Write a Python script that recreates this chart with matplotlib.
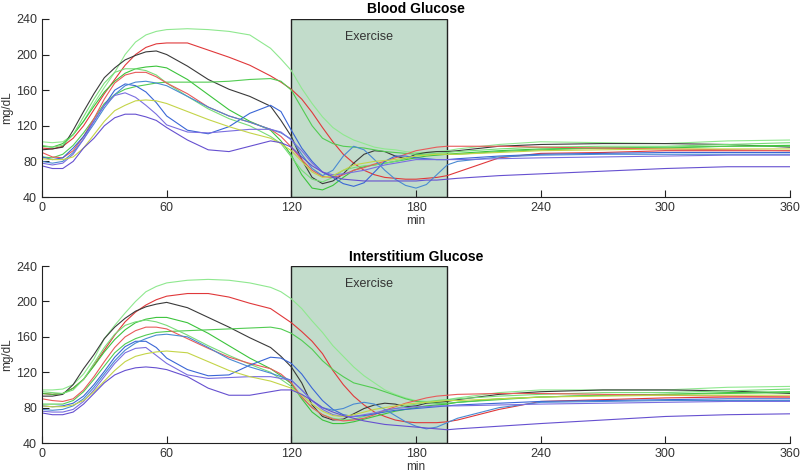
import matplotlib
matplotlib.use("Agg")
import matplotlib.pyplot as plt

plt.rcParams['font.family'] = ['Liberation Sans', 'DejaVu Sans']

# time points (min)
t = [0, 5, 10, 15, 20, 25, 30, 35, 40, 45, 50, 55, 60, 70, 80, 90, 100, 110, 115, 120,
     125, 130, 135, 140, 145, 150, 155, 160, 165, 170, 175, 180, 185, 190, 195,
     200, 220, 240, 270, 300, 330, 360]

exercise_start = 120
exercise_end = 195

# blood glucose (mg/dL), one list per subject
bg_palegreen = [102, 101, 102, 110, 125, 145, 163, 180, 200, 214, 222, 226, 228, 229, 228, 226, 222, 207, 195, 182,
                162, 145, 130, 118, 110, 104, 100, 96, 94, 93, 91, 90, 90, 91, 92,
                94, 99, 102, 101, 100, 103, 104]
bg_red = [95, 94, 97, 106, 120, 138, 156, 172, 188, 200, 208, 212, 213, 213, 205, 197, 188, 176, 169, 161,
          150, 135, 118, 102, 88, 78, 70, 65, 62, 61, 60, 60, 61, 62, 64,
          68, 84, 89, 90, 92, 92, 92]
bg_black = [93, 94, 96, 115, 136, 156, 174, 185, 194, 199, 203, 204, 200, 187, 172, 161, 153, 142, 126, 108,
            82, 62, 55, 58, 66, 78, 88, 92, 91, 86, 83, 88, 90, 91, 91,
            92, 97, 99, 100, 100, 99, 96]
bg_green = [97, 96, 100, 110, 125, 142, 158, 170, 179, 184, 186, 187, 185, 172, 155, 138, 125, 115, 103, 87,
            65, 50, 48, 53, 62, 70, 74, 76, 78, 80, 82, 84, 86, 87, 88,
            89, 92, 94, 95, 95, 97, 98]
bg_green2 = [85, 84, 88, 98, 112, 128, 145, 155, 161, 164, 166, 168, 169, 169, 169, 170, 172, 173, 170, 160,
             140, 120, 106, 100, 97, 96, 95, 93, 91, 90, 89, 88, 88, 88, 88,
             88, 91, 93, 95, 96, 97, 97]
bg_lightgreen = [98, 96, 98, 110, 130, 150, 168, 180, 184, 184, 182, 177, 168, 153, 139, 128, 120, 108, 100, 85,
                 70, 60, 57, 62, 70, 73, 75, 76, 78, 80, 83, 86, 88, 89, 90,
                 91, 94, 96, 97, 97, 99, 101]
bg_red2 = [90, 85, 84, 92, 108, 128, 150, 168, 177, 180, 180, 175, 168, 156, 141, 131, 124, 116, 108, 96,
           82, 70, 63, 62, 65, 70, 73, 77, 80, 84, 88, 92, 94, 96, 97,
           97, 97, 96, 95, 94, 93, 92]
bg_blue = [85, 82, 84, 95, 108, 125, 143, 160, 167, 165, 158, 146, 131, 115, 111, 119, 134, 143, 136, 115,
           95, 80, 68, 62, 55, 52, 56, 68, 80, 86, 86, 84, 83, 82, 82,
           83, 86, 88, 89, 90, 90, 90]
bg_blue2 = [80, 78, 80, 90, 105, 122, 140, 155, 165, 169, 170, 168, 165, 153, 141, 131, 124, 116, 112, 105,
            88, 72, 64, 70, 86, 97, 93, 82, 70, 60, 53, 50, 54, 65, 76,
            80, 85, 87, 88, 88, 88, 88]
bg_slate = [78, 76, 78, 88, 105, 125, 143, 154, 157, 152, 143, 133, 121, 113, 112, 114, 116, 116, 113, 104,
            92, 78, 68, 65, 66, 68, 70, 73, 76, 78, 80, 82, 82, 82, 82,
            82, 83, 84, 85, 86, 87, 87]
bg_yellow = [83, 82, 82, 85, 95, 110, 125, 137, 143, 148, 149, 148, 145, 136, 127, 119, 112, 106, 100, 92,
             80, 68, 62, 64, 70, 76, 78, 80, 81, 82, 84, 86, 87, 88, 88,
             88, 90, 92, 93, 94, 94, 94]
bg_purple = [75, 72, 72, 80, 95, 106, 120, 129, 133, 133, 130, 126, 118, 104, 93, 91, 97, 103, 101, 96,
             85, 75, 68, 63, 60, 59, 58, 58, 58, 58, 58, 58, 59, 59, 60,
             61, 64, 66, 69, 72, 74, 74]

# interstitium glucose (mg/dL)
ig_palegreen = [100, 100, 101, 106, 118, 135, 158, 173, 187, 200, 211, 217, 221, 224, 225, 224, 221, 216, 211, 203,
                192, 178, 165, 150, 138, 126, 116, 108, 100, 95, 91, 88, 87, 88, 89,
                91, 97, 100, 100, 100, 103, 104]
ig_red = [96, 95, 96, 102, 112, 128, 145, 162, 177, 188, 196, 202, 206, 209, 209, 205, 198, 192, 184, 176,
          166, 155, 141, 122, 106, 93, 83, 75, 70, 66, 64, 63, 63, 63, 64,
          66, 78, 87, 89, 91, 92, 92]
ig_black = [93, 93, 95, 106, 124, 140, 158, 171, 181, 189, 194, 197, 199, 193, 182, 171, 159, 148, 138, 126,
            108, 83, 70, 66, 67, 73, 79, 83, 85, 84, 81, 82, 85, 86, 87,
            89, 95, 98, 100, 100, 99, 96]
ig_green = [96, 95, 96, 102, 112, 127, 143, 157, 168, 176, 180, 182, 182, 176, 164, 150, 136, 124, 116, 107,
            90, 75, 66, 62, 62, 64, 67, 70, 73, 76, 78, 80, 82, 83, 84,
            86, 90, 92, 94, 95, 97, 98]
ig_green2 = [84, 84, 84, 88, 98, 112, 127, 142, 152, 158, 162, 165, 166, 167, 168, 169, 170, 171, 169, 164,
             156, 146, 133, 123, 115, 108, 105, 102, 98, 94, 90, 87, 86, 85, 85,
             86, 89, 92, 94, 95, 96, 97]
ig_lightgreen = [98, 97, 96, 100, 112, 130, 148, 163, 173, 177, 179, 177, 173, 162, 150, 139, 129, 120, 112, 104,
                 92, 80, 72, 68, 66, 67, 70, 73, 76, 79, 82, 84, 86, 88, 89,
                 90, 93, 95, 97, 97, 99, 101]
ig_red2 = [90, 88, 87, 90, 100, 115, 132, 148, 160, 167, 171, 171, 169, 158, 147, 137, 130, 124, 118, 108,
           92, 80, 72, 67, 65, 66, 68, 72, 77, 81, 85, 88, 91, 93, 94,
           95, 96, 96, 95, 94, 93, 92]
ig_blue = [82, 81, 82, 85, 93, 106, 121, 137, 149, 155, 155, 148, 136, 123, 116, 117, 128, 137, 136, 130,
           118, 102, 88, 78, 72, 70, 71, 73, 75, 77, 78, 79, 80, 81, 82,
           83, 85, 87, 88, 89, 90, 90]
ig_blue2 = [78, 77, 78, 82, 90, 103, 118, 133, 145, 153, 158, 162, 163, 160, 148, 135, 126, 119, 115, 111,
            100, 88, 80, 77, 79, 84, 86, 84, 78, 71, 64, 59, 56, 58, 63,
            68, 80, 86, 87, 88, 88, 88]
ig_slate = [76, 75, 75, 78, 87, 100, 115, 130, 142, 147, 148, 139, 130, 117, 113, 114, 115, 115, 113, 111,
            100, 88, 78, 72, 70, 70, 72, 74, 77, 79, 80, 81, 81, 82, 82,
            82, 83, 84, 85, 86, 87, 87]
ig_yellow = [82, 81, 81, 83, 88, 98, 110, 122, 132, 138, 141, 143, 144, 142, 132, 122, 115, 110, 106, 102,
             94, 84, 76, 71, 70, 72, 75, 78, 80, 82, 84, 85, 86, 87, 88,
             88, 90, 92, 93, 94, 94, 94]
ig_purple = [74, 72, 72, 75, 84, 96, 108, 117, 122, 125, 126, 125, 123, 115, 102, 94, 94, 98, 100, 100,
             95, 88, 80, 75, 71, 68, 65, 63, 61, 60, 59, 58, 57, 56, 55,
             56, 59, 62, 66, 70, 72, 73]

colors = ['#8fe88f', '#e0383a', '#3a3a3a', '#3cc43c', '#52cc52', '#78dc78',
          '#e85a5a', '#3a66d6', '#4a8ad2', '#7a6ee0', '#c4d448', '#6650d0']

blood = [bg_palegreen, bg_red, bg_black, bg_green, bg_green2, bg_lightgreen,
         bg_red2, bg_blue, bg_blue2, bg_slate, bg_yellow, bg_purple]
inter = [ig_palegreen, ig_red, ig_black, ig_green, ig_green2, ig_lightgreen,
         ig_red2, ig_blue, ig_blue2, ig_slate, ig_yellow, ig_purple]

fig = plt.figure(figsize=(8, 4.73), dpi=100)
ax1 = fig.add_axes([0.0525, 0.5835, 0.935, 0.3765])
ax2 = fig.add_axes([0.0525, 0.0634, 0.935, 0.374])

for ax, series, title in [(ax1, blood, 'Blood Glucose'), (ax2, inter, 'Interstitium Glucose')]:
    ax.axvspan(exercise_start, exercise_end, facecolor='#c2dccb', edgecolor='#222222', lw=1.0, zorder=1)
    ax.text((exercise_start + exercise_end) / 2, 220, 'Exercise', ha='center', va='center',
            fontsize=9, color='#333333', zorder=3)
    for s, c in zip(series, colors):
        ax.plot(t, s, color=c, lw=0.8, zorder=2)
    ax.set_xlim(0, 360)
    ax.set_ylim(40, 240)
    ax.set_xticks(range(0, 361, 60))
    ax.set_yticks(range(40, 241, 40))
    ax.spines['top'].set_visible(False)
    ax.spines['right'].set_visible(False)
    for sp in ['left', 'bottom']:
        ax.spines[sp].set_color('#222222')
    ax.tick_params(direction='in', length=5, labelsize=9, colors='#222222', labelcolor='#333333')
    ax.set_title(title, fontsize=10, fontweight='bold', pad=4)
    ax.set_xlabel('min', fontsize=8.5, color='#333333', labelpad=1)
    ax.set_ylabel('mg/dL', fontsize=8.5, color='#333333', labelpad=2)

fig.savefig('out.png', dpi=100)
